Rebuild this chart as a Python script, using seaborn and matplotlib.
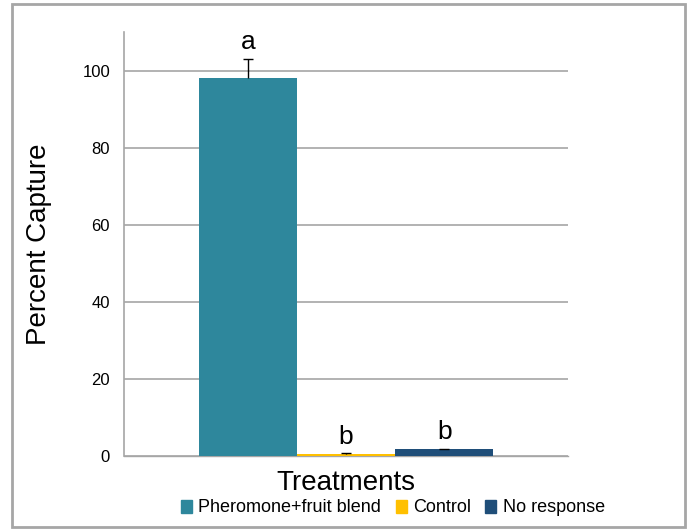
import numpy as np
import pandas as pd
import matplotlib.pyplot as plt
import seaborn as sns
from matplotlib.patches import Rectangle

treatments = ["Pheromone+fruit blend", "Control", "No response"]
capture = [98.0, 0.5, 1.7]
errors = [5.0, 0.2, 0.2]
letters = ["a", "b", "b"]
colors = ["#2E879C", "#FFC000", "#1F4E79"]

df = pd.DataFrame({"treatment": treatments, "capture": capture})

sns.set_style("white")
plt.rcParams["font.family"] = ["Liberation Sans", "DejaVu Sans"]
plt.rcParams["text.color"] = "black"
plt.rcParams["axes.labelcolor"] = "black"
plt.rcParams["ytick.color"] = "black"

fig = plt.figure(figsize=(6.89, 5.29), dpi=100)
ax = fig.add_axes([124 / 689, 1 - 456 / 529, 444 / 689, 424 / 529])

sns.barplot(data=df, x="treatment", y="capture", hue="treatment",
            palette=colors, width=1.0, ax=ax, legend=False, saturation=1,
            linewidth=0, edgecolor="none")

# upper error bars only
x = np.arange(len(capture))
tops = np.array(capture) + np.array(errors)
ax.vlines(x, capture, tops, color="black", linewidth=1)
ax.hlines(tops, x - 0.05, x + 0.05, color="black", linewidth=1)

for i, (v, e, l) in enumerate(zip(capture, errors, letters)):
    ax.text(i, v + e + 1.2, l, ha="center", va="bottom", fontsize=19)

ax.set_ylim(0, 110)
ax.set_xlim(-1.26, 3.26)
ax.set_yticks([0, 20, 40, 60, 80, 100])
ax.yaxis.grid(True, color="#a6a6a6", linewidth=1.2)
ax.set_axisbelow(True)
ax.set_xticks([])
ax.tick_params(axis="y", length=6, color="#a6a6a6", labelcolor="black", labelsize=12, pad=4)
for s in ["top", "right"]:
    ax.spines[s].set_visible(False)
ax.spines["left"].set_color("#a6a6a6")
ax.spines["bottom"].set_color("#a6a6a6")
ax.spines["left"].set_linewidth(1.2)
ax.spines["bottom"].set_linewidth(1.0)
ax.spines["bottom"].set_zorder(0.6)

ax.set_xlabel("Treatments", fontsize=20, labelpad=10)
ax.set_ylabel("Percent Capture", fontsize=20, labelpad=22)

handles = [Rectangle((0, 0), 1, 1, color=c) for c in colors]
fig.legend(handles, treatments, loc="center", bbox_to_anchor=(393 / 689, 1 - 508 / 529),
           ncol=3, frameon=False, fontsize=13, handlelength=0.6, handleheight=0.7,
           handletextpad=0.35, columnspacing=0.8)

fig.patches.append(Rectangle((12 / 689, 2 / 529), 673 / 689, 523 / 529, fill=False,
                             edgecolor="#a6a6a6", linewidth=2, transform=fig.transFigure))

plt.savefig("out.png", dpi=100)
